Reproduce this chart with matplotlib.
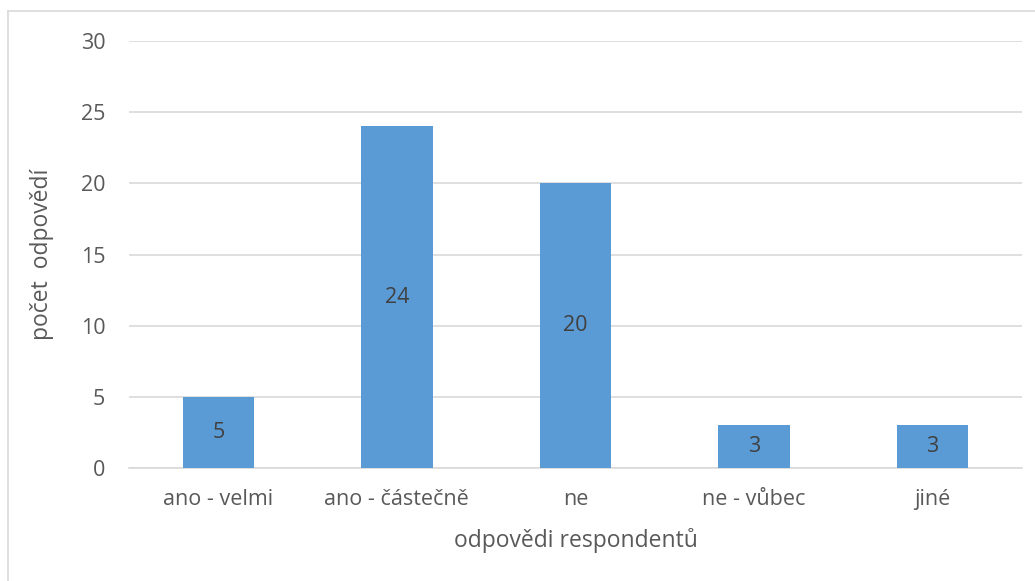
import matplotlib.pyplot as plt
from matplotlib.lines import Line2D

# data
kategorie = ['ano - velmi', 'ano - částečně', 'ne', 'ne - vůbec', 'jiné']
pocty = [5, 24, 20, 3, 3]
y_ticks = [0, 5, 10, 15, 20, 25, 30]

plt.rcParams['font.family'] = ['Open Sans', 'DejaVu Sans']

fig = plt.figure(figsize=(10.35, 5.81), dpi=100)
ax = fig.add_axes([0.1246, 0.1945, 0.8628, 0.7349])

x = range(len(kategorie))
bars = ax.bar(x, pocty, width=0.4, color='#5B9BD5', zorder=3)

for b, v in zip(bars, pocty):
    ax.text(b.get_x() + b.get_width() / 2, v / 2, str(v),
            ha='center', va='center', fontsize=15.5, color='#404040', zorder=4)

ax.set_xlim(-0.5, len(kategorie) - 0.5)
ax.set_ylim(0, 30)
ax.set_yticks(y_ticks)
ax.set_xticks(list(x))
ax.set_xticklabels(kategorie)
ax.tick_params(axis='both', length=0, labelsize=15.5, labelcolor='#595959')
ax.tick_params(axis='y', pad=17)
ax.tick_params(axis='x', pad=15)

ax.yaxis.grid(True, color='#D9D9D9', linewidth=1.2, zorder=0)
for s in ['top', 'right', 'left']:
    ax.spines[s].set_visible(False)
ax.spines['bottom'].set_color('#D9D9D9')
ax.spines['bottom'].set_linewidth(1.2)

ax.set_xlabel('odpovědi respondentů', fontsize=16.5, color='#595959', labelpad=13)
ax.set_ylabel('počet  odpovědí', fontsize=16.5, color='#595959', labelpad=19)

# chart frame (light border)
fig.add_artist(Line2D([8 / 1035, 8 / 1035], [0, 1 - 11 / 581], color='#D9D9D9', lw=1.2))
fig.add_artist(Line2D([8 / 1035, 1], [1 - 11 / 581, 1 - 11 / 581], color='#D9D9D9', lw=1.2))

fig.savefig('out.png', dpi=100)
